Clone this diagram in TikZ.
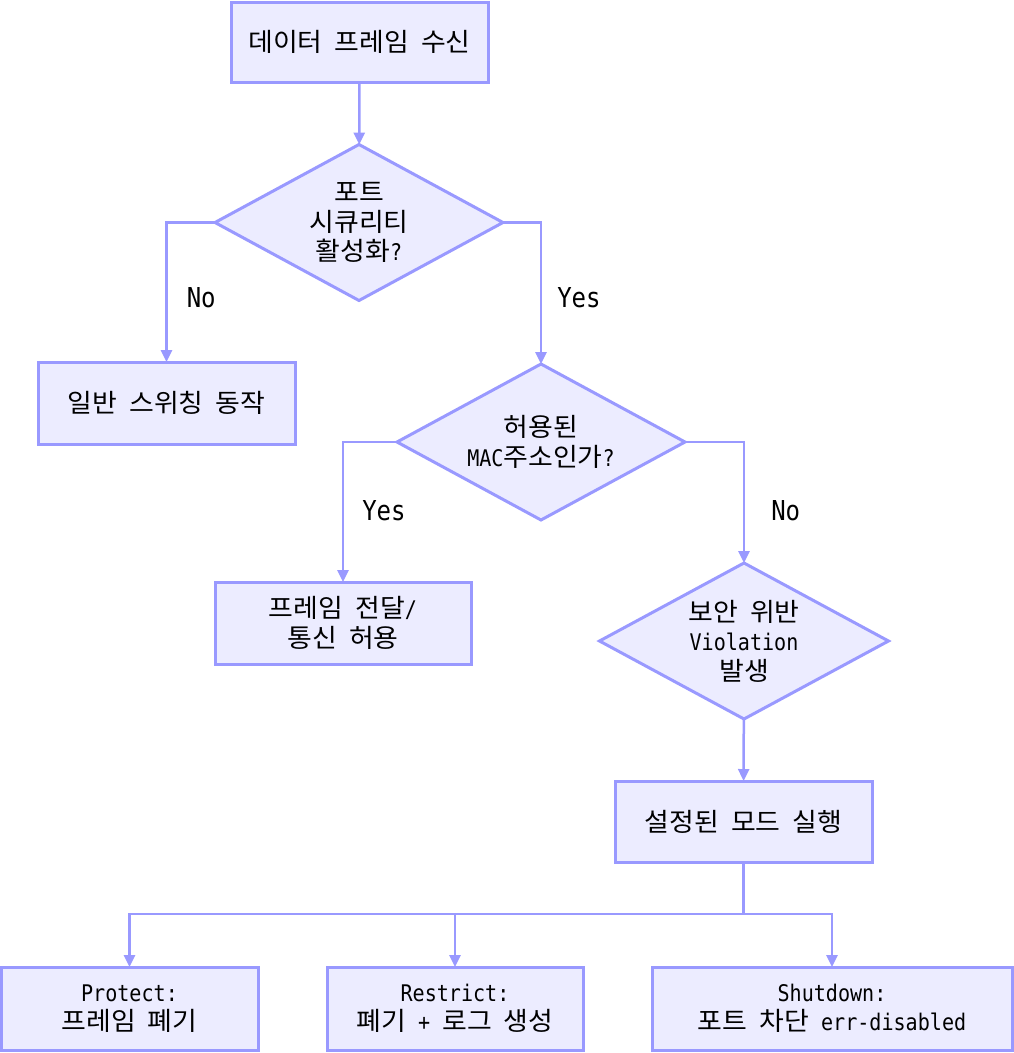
\documentclass[tikz,border=0pt]{standalone}
\usepackage{fontspec}
\setmainfont[FakeStretch=0.877]{DejaVu Sans Mono}
\newfontfamily\krfont[Scale=1.12,FakeStretch=1.05]{Noto Sans CJK KR}
\newcommand{\ko}[1]{{\krfont #1}}
\usetikzlibrary{positioning, calc, arrows.meta, shapes.geometric}
\definecolor{flowline}{RGB}{153,153,255}
\definecolor{flowfill}{RGB}{236,236,255}
\tikzset{flowbox/.style={draw=flowline, fill=flowfill, line width=3pt, align=center, minimum width=257pt, minimum height=81pt, inner sep=0pt, outer sep=0pt}}
\tikzset{flowdec/.style={diamond, draw=flowline, fill=flowfill, line width=3pt, align=center, aspect=1.85, inner sep=0pt, outer sep=0pt, minimum width=288pt, minimum height=156pt}}
\tikzset{arr/.style={draw=flowline, line width=2.5pt, -{Triangle[length=12pt, width=11pt]}}}
\tikzset{lbl/.style={font=\fontsize{27.4}{30}\selectfont, inner sep=0pt, anchor=west}}

\begin{document}
\begin{tikzpicture}[x=1pt, y=-1pt, every node/.style={font=\fontsize{22.9}{29.5}\selectfont}]
	\useasboundingbox (0,0) rectangle (1014,1053);
	\node[flowbox, minimum height=80pt] (recv) at (359.5,42) {\ko{데이터} \ko{프레임} \ko{수신}};
	\node[flowdec] (portsec) at (359,222.5) {\ko{포트}\\\ko{시큐리티}\\\ko{활성화}?};
	\node[flowbox, minimum height=82pt] (normal) at (166.5,403) {\ko{일반} \ko{스위칭} \ko{동작}};
	\node[flowdec] (allowed) at (541,442) {\ko{허용된}\\MAC\ko{주소인가}?};
	\node[flowbox, minimum width=256pt, minimum height=82pt] (forward) at (343,623) {\ko{프레임} \ko{전달}/\\\ko{통신} \ko{허용}};
	\node[flowdec, minimum width=289pt] (violation) at (744,641) {\ko{보안} \ko{위반}\\Violation\\\ko{발생}};
	\node[flowbox] (mode) at (743.5,821.5) {\ko{설정된} \ko{모드} \ko{실행}};
	%
	\coordinate (split) at ($(mode.south)+(0,52)$);
	\node[flowbox, minimum height=83pt] (protect) at (129.5,1008.5) {Protect:\\\ko{프레임} \ko{폐기}};
	\node[flowbox, minimum width=256pt, minimum height=83pt] (restrict) at (455,1008.5) {Restrict:\\\ko{폐기} + \ko{로그} \ko{생성}};
	\node[flowbox, minimum width=360pt, minimum height=83pt] (shutdown) at (832,1008.5) {Shutdown:\\\ko{포트} \ko{차단} err-disabled};
	%
	\draw[arr] (recv) -- (portsec);
	\draw[arr] (portsec.west) -| node[pos=0.768, right=19pt, lbl]{No} (normal.north);
	\draw[arr] (portsec.east) -| node[pos=0.766, right=15pt, lbl]{Yes} (allowed.north);
	\draw[arr] (allowed.west) -| node[pos=0.746, right=18pt, lbl]{Yes} (forward.north);
	\draw[arr] (allowed.east) -| node[pos=0.785, right=26pt, lbl]{No} (violation.north);
	\draw[arr] (violation) -- (mode);
	\draw[arr] (mode.south) -- (split) -| (protect.north);
	\draw[arr] (split) -| (restrict.north);
	\draw[arr] (split) -| (shutdown.north);
\end{tikzpicture}
\end{document}
